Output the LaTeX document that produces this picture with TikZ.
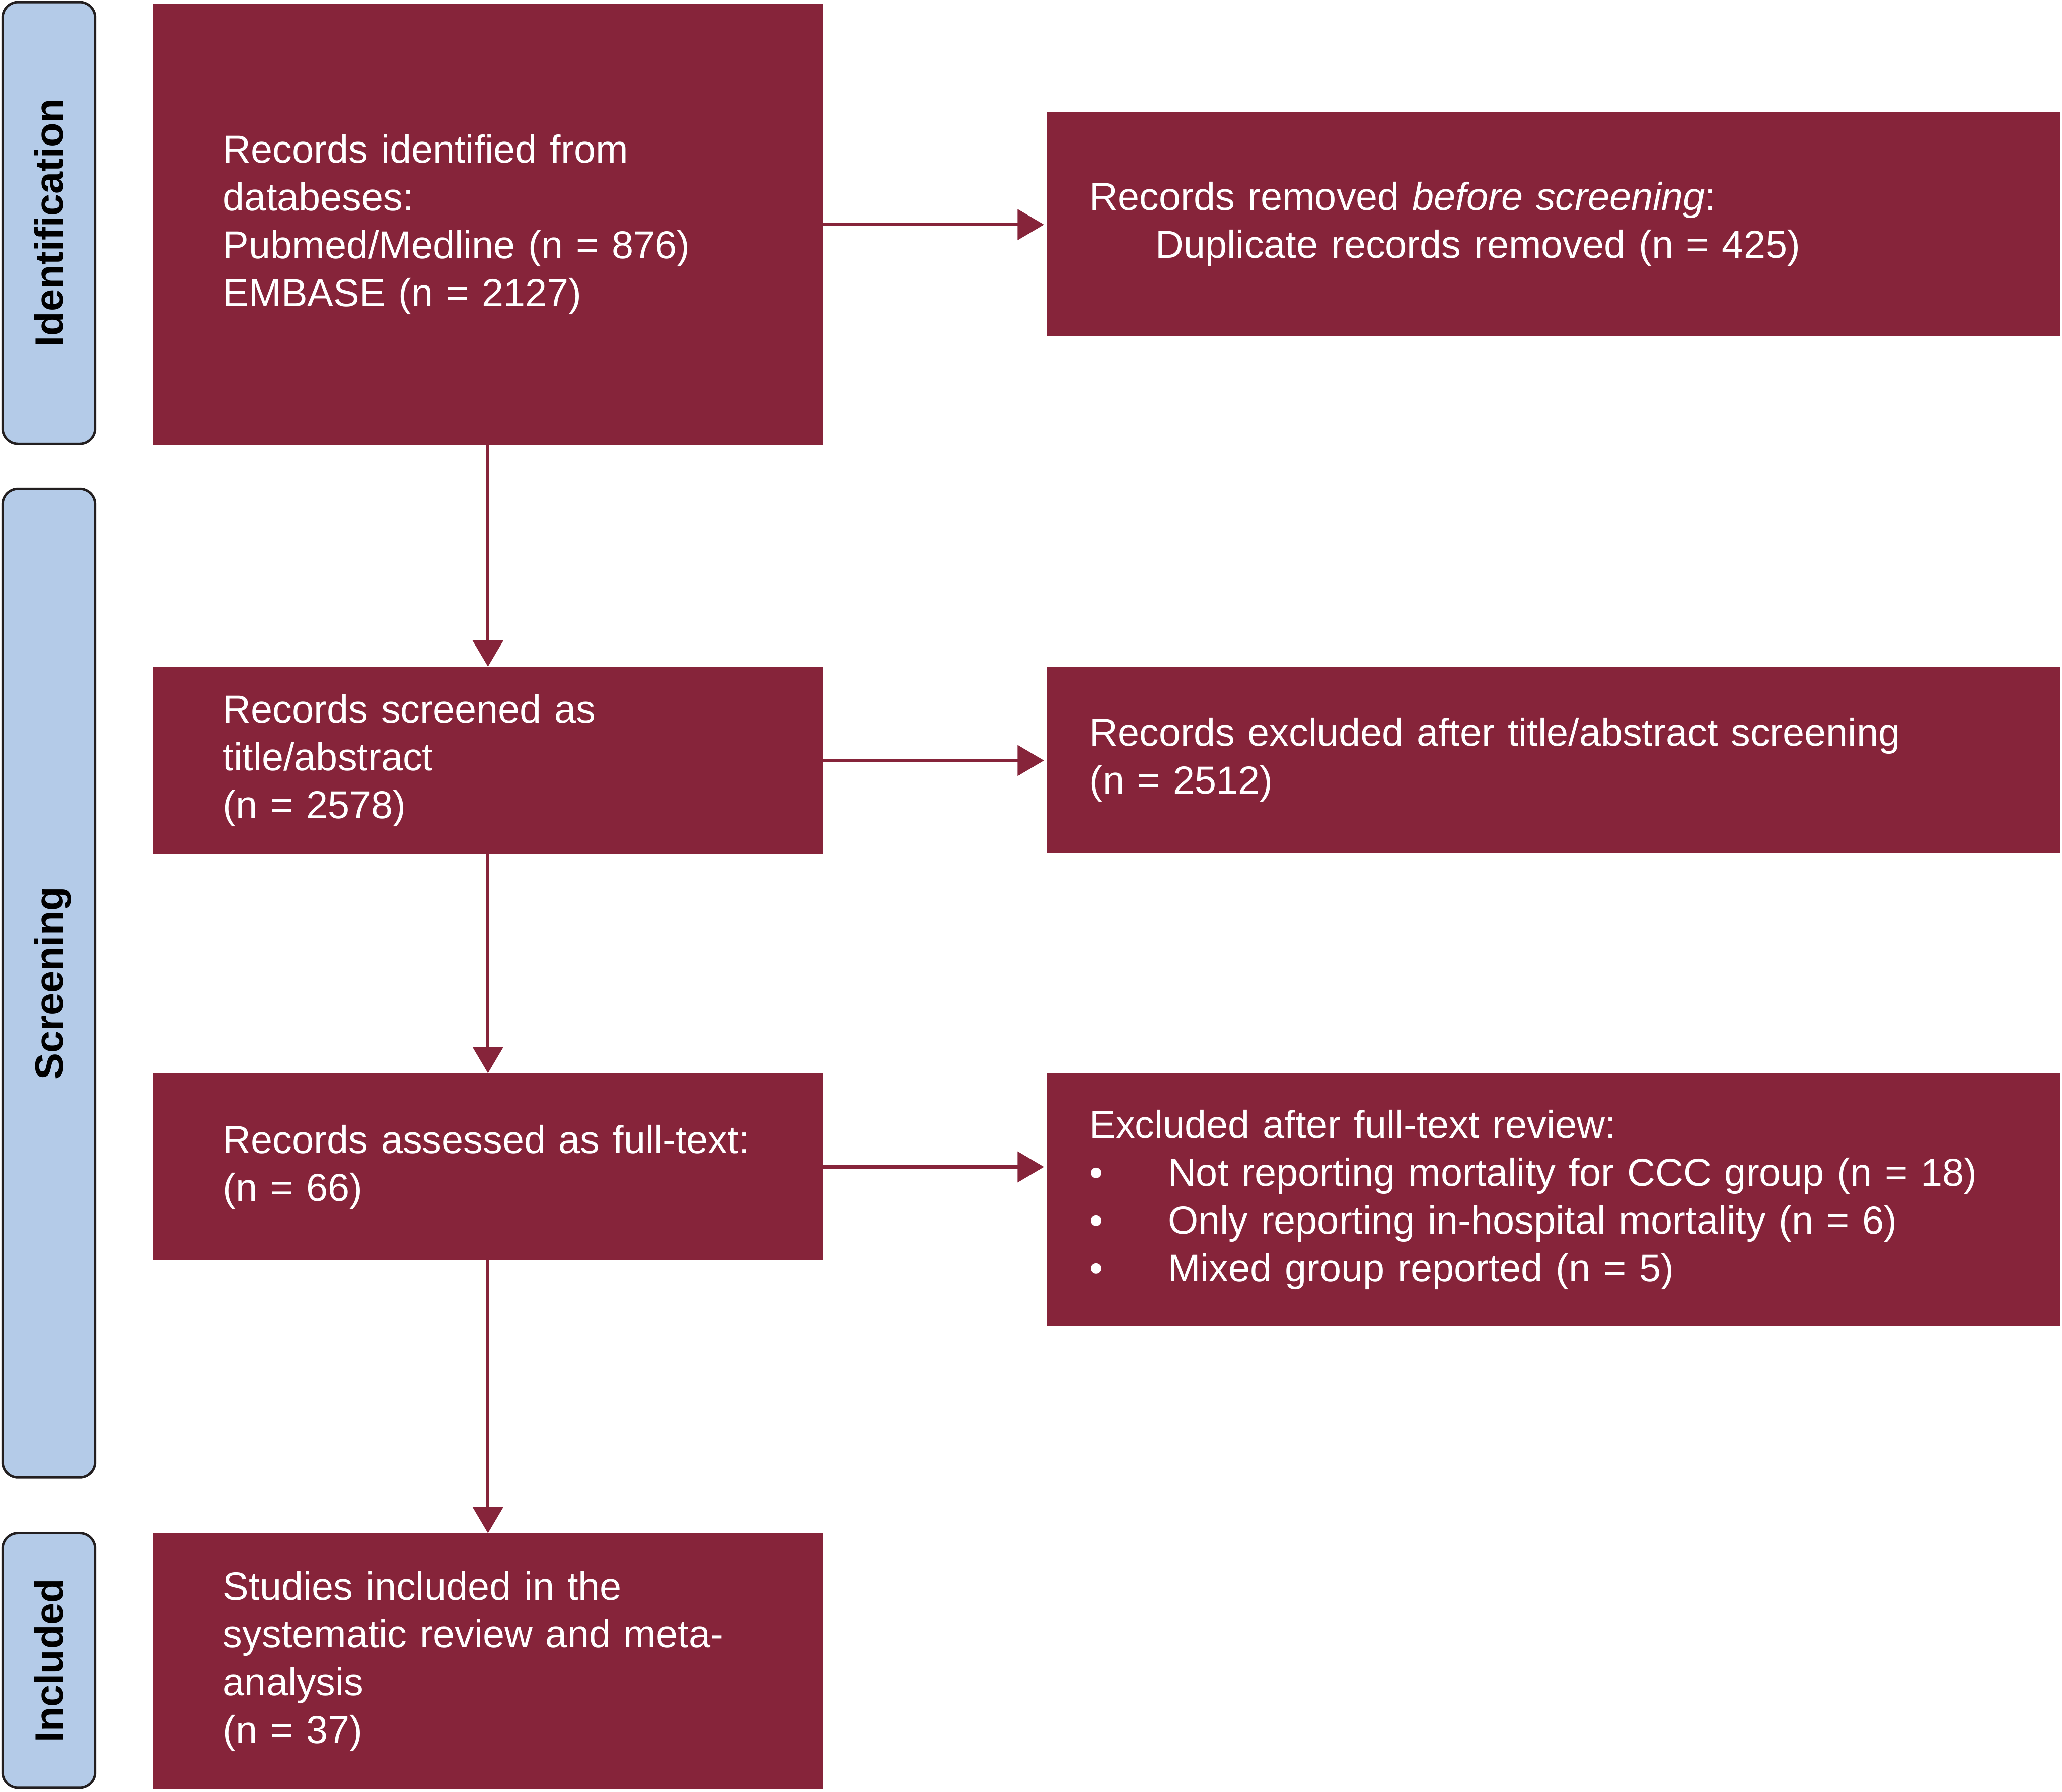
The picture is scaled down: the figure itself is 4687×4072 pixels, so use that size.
\documentclass[tikz,border=0pt]{standalone}
\usepackage{fontspec}
\setmainfont{Liberation Sans}
\usetikzlibrary{arrows.meta,calc}
\definecolor{boxred}{HTML}{86243A}
\definecolor{barblue}{HTML}{B4CBE8}
\definecolor{bardark}{HTML}{231F20}
\begin{document}
\begin{tikzpicture}[x=0.01cm,y=-0.01cm,
  mainbox/.style={rectangle, fill=boxred, text=white, anchor=north west, align=left,
    inner ysep=0pt, font=\fontsize{25.2}{30.9}\selectfont},
  leftbox/.style={mainbox, minimum width=15.22cm, inner xsep=1.59cm, text width=12.04cm},
  rightbox/.style={mainbox, minimum width=23.04cm, inner xsep=0.98cm, text width=21.08cm},
  phase/.style={rectangle, rounded corners=0.35cm, draw=bardark, line width=0.055cm,
    fill=barblue, rotate=90, minimum height=2.10cm, inner sep=0pt,
    font=\bfseries\fontsize{25.8}{30}\selectfont, text height=18.6pt, text depth=0pt},
  flow/.style={draw=boxred, line width=0.07cm, -{Triangle[length=0.6cm,width=0.69cm]}},
]
\useasboundingbox (0,0) rectangle (4687,4072);

% phase bars
\node[phase, minimum width=10.03cm] (idbar) at (111,506.5) {Identification};
\node[phase, minimum width=22.45cm] (scrbar) at (111,2234.5) {Screening};
\node[phase, minimum width=5.79cm] (incbar) at (111,3773.5) {Included};

% boxes
\node[leftbox, minimum height=10.01cm] (ident) at (347,9)
  {Records identified from\\databeses:\\Pubmed/Medline (n = 876)\\EMBASE (n = 2127)};
\node[rightbox, minimum height=5.08cm] (removed) at (2378,254)
  {Records removed \textit{before screening}:\\\hspace*{1.50cm}Duplicate records removed (n = 425)};
\node[leftbox, minimum height=4.25cm] (screened) at (347,1515)
  {Records screened as\\title/abstract\\(n = 2578)};
\node[rightbox, minimum height=4.22cm] (excl1) at (2378,1515)
  {Records excluded after title/abstract screening\\(n = 2512)};
\node[leftbox, minimum height=4.24cm] (assessed) at (347,2439)
  {\mbox{Records assessed as full-text:}\\(n = 66)};
\node[rightbox, minimum height=5.74cm] (excl2) at (2378,2439)
  {Excluded after full-text review:\\
   \makebox[1.78cm][l]{•}Not reporting mortality for CCC group (n = 18)\\
   \makebox[1.78cm][l]{•}Only reporting in-hospital mortality (n = 6)\\
   \makebox[1.78cm][l]{•}Mixed group reported (n = 5)};
\node[leftbox, minimum height=5.82cm] (included) at (347,3484)
  {Studies included in the\\systematic review and meta-\\analysis\\(n = 37)};

% connectors
\draw[flow] (ident.south) -- (screened.north);
\draw[flow] (screened.south) -- (assessed.north);
\draw[flow] (assessed.south) -- (included.north);
\draw[flow, shorten >=0.05cm] (ident.east) -- (ident.east -| removed.west);
\draw[flow, shorten >=0.05cm] (screened.east) -- (screened.east -| excl1.west);
\draw[flow, shorten >=0.05cm] (assessed.east) -- (assessed.east -| excl2.west);
\end{tikzpicture}
\end{document}
